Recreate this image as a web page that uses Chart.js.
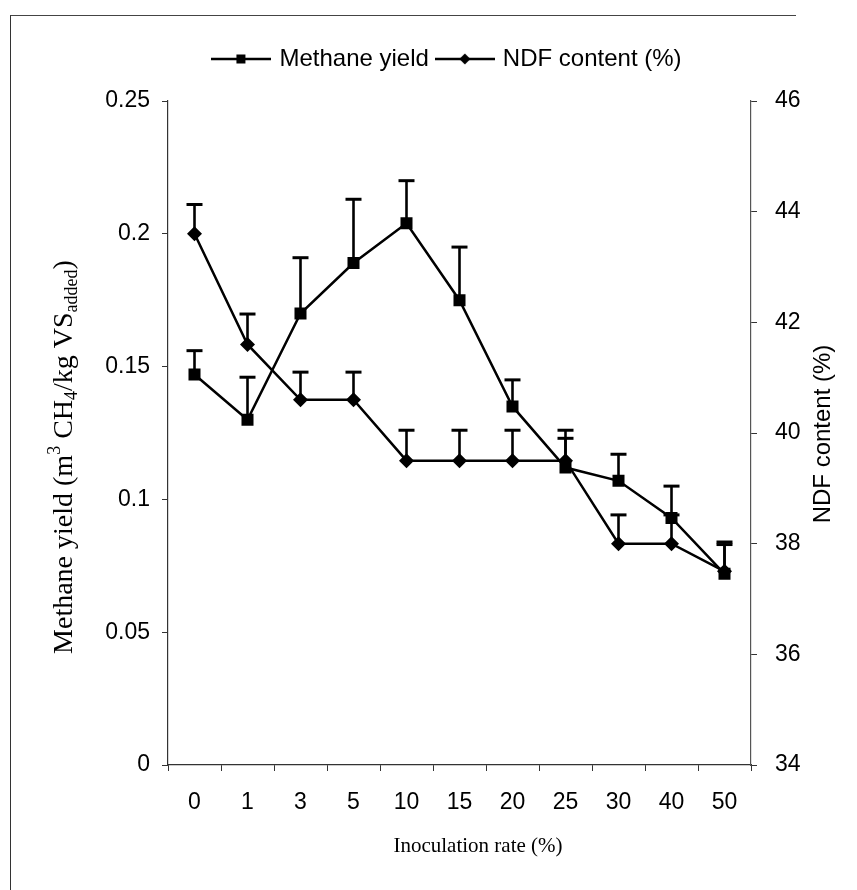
<!DOCTYPE html>
<html>
<head>
<meta charset="utf-8">
<script src="https://cdn.jsdelivr.net/npm/chart.js@4"></script>
<style>
html, body { margin: 0; padding: 0; background: #fff; }
#wrap { position: relative; width: 857px; height: 890px; overflow: hidden; }
#frame { position: absolute; left: 10px; top: 15px; width: 785px; height: 900px;
  border-left: 1.5px solid #333; border-top: 1.5px solid #444; pointer-events: none; }
</style>
</head>
<body>
<div id="wrap">
  <canvas id="chart" width="857" height="890"></canvas>
  <div id="frame"></div>
</div>
<script>
// data
const rates = ['0', '1', '3', '5', '10', '15', '20', '25', '30', '40', '50'];
const methaneYield = [0.147, 0.130, 0.170, 0.189, 0.204, 0.175, 0.135, 0.112, 0.107, 0.093, 0.072];
const methaneErr = [0.009, 0.016, 0.021, 0.024, 0.016, 0.020, 0.010, 0.011, 0.010, 0.012, 0.011];
const ndfContent = [43.6, 41.6, 40.6, 40.6, 39.5, 39.5, 39.5, 39.5, 38.0, 38.0, 37.5];
const ndfErr = [0.53, 0.55, 0.50, 0.50, 0.55, 0.55, 0.55, 0.55, 0.52, 0.52, 0.53];
const yieldTicks = [0, 0.05, 0.1, 0.15, 0.2, 0.25];
const ndfTicks = [34, 36, 38, 40, 42, 44, 46];

const SANS = 'Arial, "Liberation Sans", sans-serif';
const SERIF = '"Times New Roman", "Liberation Serif", serif';

Chart.defaults.color = '#000';

// little line + marker images for the legend
function legendMark(shape) {
    const c = document.createElement('canvas');
    c.width = 60; c.height = 16;
    const g = c.getContext('2d');
    g.strokeStyle = '#000';
    g.lineWidth = 2.5;
    g.beginPath(); g.moveTo(0, 8); g.lineTo(60, 8); g.stroke();
    g.fillStyle = '#000';
    if (shape === 'rect') {
        g.fillRect(25, 3.5, 9, 9);
    } else {
        g.beginPath();
        g.moveTo(30, 2.5); g.lineTo(35.5, 8); g.lineTo(30, 13.5); g.lineTo(24.5, 8);
        g.closePath(); g.fill();
    }
    return c;
}
const marks = [legendMark('rect'), legendMark('diamond')];

// upward error bars
const errorBars = {
    id: 'errorBars',
    afterDatasetsDraw(chart) {
        const ctx = chart.ctx;
        chart.data.datasets.forEach((ds, i) => {
            const meta = chart.getDatasetMeta(i);
            const scale = chart.scales[ds.yAxisID];
            ctx.save();
            ctx.strokeStyle = '#000';
            meta.data.forEach((pt, j) => {
                const top = scale.getPixelForValue(ds.data[j] + ds.errors[j]);
                ctx.lineWidth = 2.6;
                ctx.beginPath(); ctx.moveTo(pt.x, pt.y); ctx.lineTo(pt.x, top); ctx.stroke();
                ctx.lineWidth = 3;
                ctx.beginPath(); ctx.moveTo(pt.x - 8, top); ctx.lineTo(pt.x + 8, top); ctx.stroke();
            });
            ctx.restore();
        });
    }
};

// legend sits higher above the plot than chart.js would put it
const legendLift = {
    id: 'legendLift',
    afterLayout(chart) {
        chart.legend.top -= 20;
        chart.legend.bottom -= 20;
    }
};

// axis titles (the left one needs sub/superscripts)
const axisTitles = {
    id: 'axisTitles',
    afterDraw(chart) {
        const ctx = chart.ctx;
        const area = chart.chartArea;
        const midY = (area.top + area.bottom) / 2;
        ctx.save();
        ctx.fillStyle = '#000';
        ctx.textBaseline = 'alphabetic';

        const parts = [
            ['Methane yield (m', 0], ['3', -1], [' CH', 0], ['4', 1],
            ['/kg VS', 0], ['added', 1], [')', 0]
        ];
        const big = '28px ' + SERIF, small = '18px ' + SERIF;
        let total = 0;
        parts.forEach(p => { ctx.font = p[1] ? small : big; total += ctx.measureText(p[0]).width; });
        ctx.translate(62, 457);
        ctx.rotate(-Math.PI / 2);
        let x = -total / 2;
        parts.forEach(p => {
            ctx.font = p[1] ? small : big;
            const dy = p[1] === -1 ? -12 : (p[1] === 1 ? 5 : 0);
            ctx.fillText(p[0], x, 10 + dy);
            x += ctx.measureText(p[0]).width;
        });
        ctx.restore();

        ctx.save();
        ctx.fillStyle = '#000';
        ctx.font = '24px ' + SANS;
        ctx.textAlign = 'center';
        ctx.textBaseline = 'middle';
        ctx.translate(823, midY + 1);
        ctx.rotate(-Math.PI / 2);
        ctx.fillText('NDF content (%)', 0, 0);
        ctx.restore();

        ctx.save();
        ctx.fillStyle = '#000';
        ctx.font = '21px ' + SERIF;
        ctx.textAlign = 'center';
        ctx.textBaseline = 'middle';
        ctx.fillText('Inoculation rate (%)', 478, 846);
        ctx.restore();
    }
};

new Chart(document.getElementById('chart'), {
    type: 'line',
    data: {
        labels: rates,
        datasets: [
            {
                label: 'Methane yield', data: methaneYield, errors: methaneErr, yAxisID: 'y',
                borderColor: '#000', backgroundColor: '#000', borderWidth: 2.5,
                pointStyle: 'rect', pointRadius: 8.5, pointBorderWidth: 0, tension: 0
            },
            {
                label: 'NDF content (%)', data: ndfContent, errors: ndfErr, yAxisID: 'y1',
                borderColor: '#000', backgroundColor: '#000', borderWidth: 2.5,
                pointStyle: 'rectRot', pointRadius: 7.5, pointBorderWidth: 0, tension: 0
            }
        ]
    },
    options: {
        responsive: false,
        animation: false,
        devicePixelRatio: 1,
        layout: { padding: { top: 37, left: 40, right: 0, bottom: 0 } },
        plugins: {
            tooltip: { enabled: false },
            legend: {
                position: 'top',
                labels: {
                    usePointStyle: true, pointStyleWidth: 52, padding: 10,
                    font: { family: SANS, size: 24 }, color: '#000',
                    generateLabels(chart) {
                        const items = Chart.defaults.plugins.legend.labels.generateLabels(chart);
                        items.forEach((it, i) => { it.pointStyle = marks[i]; });
                        return items;
                    }
                }
            }
        },
        scales: {
            x: {
                offset: true,
                grid: { drawOnChartArea: false, offset: true, tickLength: 6, color: '#333' },
                border: { color: '#333', width: 1.2, dash: [14, 4] },
                ticks: { font: { family: SANS, size: 23 }, color: '#000', padding: 18, maxRotation: 0 },
                afterFit(s) { s.height = 125; }
            },
            y: {
                position: 'left', min: 0, max: 0.25,
                afterBuildTicks(s) { s.ticks = yieldTicks.map(v => ({ value: v })); },
                grid: { drawOnChartArea: false, tickLength: 6, color: '#333' },
                border: { color: '#333', width: 1.2 },
                ticks: {
                    font: { family: SANS, size: 23 }, color: '#000', padding: 12,
                    callback: v => String(+v.toFixed(2))
                },
                // pushes the plot top down below the legend
                afterFit(s) { s.width = 128; s.paddingTop = 101; }
            },
            y1: {
                position: 'right', min: 34, max: 46,
                afterBuildTicks(s) { s.ticks = ndfTicks.map(v => ({ value: v })); },
                grid: { drawOnChartArea: false, tickLength: 6, color: '#333' },
                border: { color: '#555', width: 1.2, dash: [8, 4] },
                ticks: { font: { family: SANS, size: 23 }, color: '#000', padding: 18 },
                afterFit(s) { s.width = 106; }
            }
        }
    },
    plugins: [errorBars, legendLift, axisTitles]
});
</script>
</body>
</html>
